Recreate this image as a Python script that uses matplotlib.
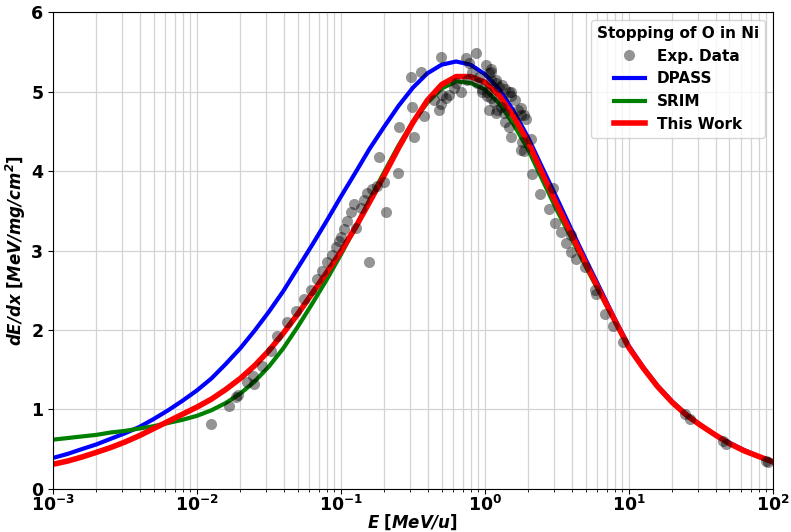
import matplotlib
matplotlib.use("Agg")
import matplotlib.pyplot as plt
import numpy as np

# energy grid (MeV/u) the curves were read at
curve_E = [0.001, 0.00126, 0.00158, 0.002, 0.00251, 0.00316, 0.00398, 0.00501, 0.00631, 0.00794,
           0.01, 0.0126, 0.0158, 0.02, 0.0251, 0.0316, 0.0398, 0.0501, 0.0631, 0.0794,
           0.1, 0.126, 0.158, 0.2, 0.251, 0.316, 0.398, 0.501, 0.631, 0.794,
           1.0, 1.26, 1.58, 2.0, 2.51, 3.16, 3.98, 5.01, 6.31, 7.94,
           10, 12.6, 15.8, 20, 25.1, 31.6, 39.8, 50.1, 63.1, 79.4, 100]

dpass = [0.39, 0.44, 0.50, 0.56, 0.63, 0.70, 0.78, 0.88, 0.99, 1.11,
         1.24, 1.39, 1.57, 1.77, 1.99, 2.23, 2.49, 2.78, 3.07, 3.37,
         3.68, 3.98, 4.28, 4.56, 4.82, 5.05, 5.23, 5.34, 5.38, 5.34,
         5.22, 5.03, 4.76, 4.42, 4.04, 3.66, 3.27, 2.89, 2.52, 2.15,
         1.80, 1.53, 1.30, 1.10, 0.94, 0.80, 0.68, 0.58, 0.49, 0.41, 0.34]

srim = [0.62, 0.64, 0.66, 0.68, 0.71, 0.73, 0.76, 0.79, 0.83, 0.87,
        0.92, 0.99, 1.08, 1.20, 1.35, 1.54, 1.77, 2.04, 2.33, 2.63,
        2.95, 3.29, 3.64, 3.99, 4.32, 4.62, 4.86, 5.04, 5.13, 5.11,
        5.03, 4.85, 4.59, 4.27, 3.89, 3.51, 3.16, 2.80, 2.46, 2.12,
        1.78, 1.52, 1.29, 1.09, 0.93, 0.80, 0.68, 0.57, 0.48, 0.41, 0.34]

this_work = [0.31, 0.35, 0.40, 0.46, 0.52, 0.59, 0.67, 0.76, 0.85, 0.94,
             1.03, 1.13, 1.25, 1.39, 1.55, 1.74, 1.96, 2.20, 2.46, 2.72,
             2.99, 3.29, 3.61, 3.95, 4.29, 4.61, 4.89, 5.09, 5.19, 5.19,
             5.12, 4.95, 4.69, 4.36, 3.97, 3.58, 3.21, 2.84, 2.48, 2.13,
             1.78, 1.52, 1.29, 1.09, 0.93, 0.80, 0.68, 0.57, 0.48, 0.41, 0.34]

# experimental points
exp_E = [0.0126, 0.0168, 0.0188, 0.0192, 0.0224, 0.0247, 0.0251, 0.0284, 0.0329, 0.0361,
         0.0424, 0.0490, 0.0556, 0.0622, 0.0684, 0.0741, 0.0802, 0.0869, 0.0927, 0.0973,
         0.100, 0.105, 0.110, 0.118, 0.123, 0.127, 0.138, 0.145, 0.152, 0.157,
         0.164, 0.178, 0.184, 0.199, 0.206, 0.249, 0.253, 0.306, 0.311, 0.321,
         0.359, 0.377, 0.442, 0.479, 0.494, 0.494, 0.502, 0.536, 0.561, 0.608,
         0.628, 0.679, 0.736, 0.748, 0.773, 0.811, 0.863, 0.877, 0.906, 0.951,
         0.951, 1.01, 1.03, 1.03, 1.06, 1.06, 1.10, 1.10, 1.11, 1.11,
         1.15, 1.19, 1.19, 1.19, 1.21, 1.25, 1.29, 1.31, 1.35, 1.39,
         1.39, 1.46, 1.46, 1.51, 1.53, 1.53, 1.63, 1.71, 1.77, 1.77,
         1.77, 1.80, 1.86, 1.86, 1.92, 2.08, 2.11, 2.43, 2.77, 2.99,
         3.09, 3.40, 3.68, 3.99, 3.99, 4.32, 4.99, 5.85, 5.94, 6.87,
         7.80, 9.15, 24.6, 26.6, 45.1, 47.3, 89.5, 92.3]
exp_dEdx = [0.82, 1.04, 1.16, 1.18, 1.34, 1.42, 1.32, 1.55, 1.73, 1.92,
            2.10, 2.24, 2.39, 2.51, 2.64, 2.74, 2.85, 2.95, 3.04, 3.12,
            3.17, 3.27, 3.37, 3.48, 3.58, 3.29, 3.54, 3.64, 3.73, 2.86,
            3.77, 3.81, 4.18, 3.86, 3.48, 3.98, 4.55, 5.19, 4.81, 4.43,
            5.25, 4.69, 4.90, 4.77, 5.44, 4.84, 4.96, 4.92, 4.96, 5.05,
            5.11, 5.00, 5.43, 5.15, 5.36, 5.25, 5.49, 5.11, 5.19, 5.03,
            4.99, 5.34, 4.99, 4.94, 5.24, 4.77, 4.92, 5.25, 5.28, 5.15,
            4.87, 5.15, 5.11, 4.73, 4.77, 5.06, 4.81, 5.09, 4.73, 5.03,
            4.62, 4.99, 4.56, 4.43, 5.00, 4.94, 4.90, 4.77, 4.71, 4.80,
            4.27, 4.37, 4.71, 4.25, 4.65, 4.40, 3.96, 3.71, 3.52, 3.79,
            3.35, 3.24, 3.10, 3.20, 2.98, 2.89, 2.79, 2.51, 2.45, 2.20,
            2.05, 1.85, 0.94, 0.88, 0.60, 0.57, 0.35, 0.34]

fig = plt.figure(figsize=(7.91, 5.32), dpi=100)
ax = fig.add_axes([0.067, 0.081, 0.91, 0.896])

ax.plot(exp_E, exp_dEdx, 'o', color='black', alpha=0.42, ms=8, mec='none',
        label='Exp. Data', zorder=3)
ax.plot(curve_E, dpass, color='blue', lw=3, label='DPASS', zorder=2)
ax.plot(curve_E, srim, color='green', lw=3, label='SRIM', zorder=2)
ax.plot(curve_E, this_work, color='red', lw=4, label='This Work', zorder=2)

ax.set_xscale('log')
ax.set_xlim(1e-3, 1e2)
ax.set_ylim(0, 6)
ax.grid(which='both', color='#d3d3d3', lw=0.9)
ax.set_axisbelow(True)

ax.set_xticks([1e-3, 1e-2, 1e-1, 1e0, 1e1, 1e2])
ax.set_xticklabels([r'$\mathbf{10^{%d}}$' % k for k in range(-3, 3)])
ax.set_yticks(range(7))
ax.set_yticklabels([str(k) for k in range(7)])
ax.tick_params(labelsize=12.5)
ax.tick_params(axis='x', pad=1)
for lab in ax.get_yticklabels():
    lab.set_fontweight('bold')

ax.set_xlabel(r'$\mathbfit{E}$ $\mathbf{[}\mathbfit{MeV/u}\mathbf{]}$', fontsize=12)
ax.xaxis.set_label_coords(0.5, -0.05)
ax.set_ylabel(r'$\mathbfit{dE/dx}$ $\mathbf{[}\mathbfit{MeV/mg/cm^{2}}\mathbf{]}$', fontsize=12, labelpad=2)

leg = ax.legend(title='Stopping of O in Ni', loc='upper right', prop={'weight': 'bold', 'size': 11},
                title_fontproperties={'weight': 'bold', 'size': 11})

fig.savefig('out.png', dpi=100)
